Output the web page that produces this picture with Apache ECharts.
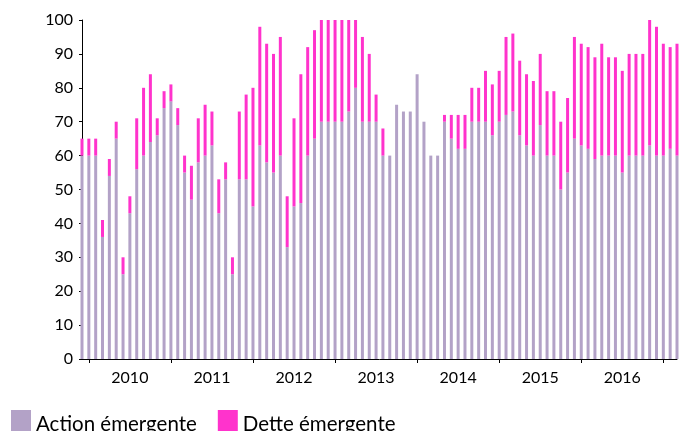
<!DOCTYPE html>
<html>
<head>
<meta charset="utf-8">
<script src="https://cdn.jsdelivr.net/npm/echarts@6/dist/echarts.min.js"></script>
<style>
  html, body { margin: 0; padding: 0; background: #fff; }
  #chart { width: 682px; height: 431px; }
</style>
</head>
<body>
<div id="chart"></div>
<script>
// monthly series, Dec 2009 -> Mar 2017
const firstYear = 2009
const firstMonth = 12
const monthCount = 88
const yearLabels = ['2010', '2011', '2012', '2013', '2014', '2015', '2016']

const actionEmergente = [
  60, 60, 60, 36, 54, 65, 25, 43, 56, 60, 64, 66, 74, 76, 69, 55,
  47, 58, 60, 63, 43, 53, 25, 53, 53, 45, 63, 58, 55, 60, 33, 45, 46, 60,
  65, 70, 70, 70, 70, 73, 80, 70, 70, 70, 60, 60, 75, 73, 73, 84, 70, 60,
  60, 70, 65, 62, 62, 70, 70, 70, 66, 70, 72, 73, 66, 63, 60, 69, 60,
  60, 50, 55, 65, 63, 62, 59, 60, 60, 60, 55, 60, 60, 60, 63, 60, 60, 62, 60
]
const detteEmergente = [
  5, 5, 5, 5, 5, 5, 5, 5, 15, 20, 20, 5, 5, 5, 5, 5,
  10, 13, 15, 10, 10, 5, 5, 20, 25, 35, 35, 35, 35, 35, 15, 26, 38, 32,
  32, 30, 30, 30, 30, 27, 20, 25, 20, 8, 8, 0, 0, 0, 0, 0, 0, 0,
  0, 2, 7, 10, 10, 10, 10, 15, 15, 15, 23, 23, 22, 21, 22, 21, 19,
  19, 20, 22, 30, 30, 30, 30, 33, 29, 29, 30, 30, 30, 30, 37, 38, 33, 30, 33
]

const months = []
for (let i = 0; i < monthCount; i++) {
  const m = (firstMonth - 1 + i) % 12
  const y = firstYear + Math.floor((firstMonth - 1 + i) / 12)
  months.push(y + '-' + String(m + 1).padStart(2, '0'))
}

const fontFamily = 'Lato, "Open Sans", sans-serif'

const chart = echarts.init(document.getElementById('chart'))
chart.setOption({
  animation: false,
  grid: {
    left: 82,
    right: 5,
    top: 20,
    bottom: 72
  },
  legend: {
    left: 11,
    top: 410,
    padding: 0,
    itemWidth: 20,
    itemHeight: 21,
    itemGap: 21,
    icon: 'rect',
    formatter: name => '{t|' + name + '}',
    textStyle: {
      rich: {
        t: {
          fontFamily,
          fontSize: 20.5,
          color: '#000',
          padding: [7, 0, 0, 0]
        }
      }
    },
    data: ['Action émergente', 'Dette émergente']
  },
  xAxis: {
    type: 'category',
    data: months,
    boundaryGap: false,
    axisLine: { lineStyle: { color: '#000', width: 1 } },
    axisTick: {
      length: 4,
      interval: (index, value) => value.slice(5) === '01',
      lineStyle: { color: '#000' }
    },
    axisLabel: {
      interval: (index, value) => value.slice(5) === '07' && yearLabels.includes(value.slice(0, 4)),
      formatter: value => value.slice(0, 4),
      margin: 11,
      fontFamily,
      fontSize: 16,
      color: '#000'
    },
    splitLine: { show: false }
  },
  yAxis: {
    type: 'value',
    min: 0,
    max: 100,
    interval: 10,
    axisLine: { show: true, lineStyle: { color: '#000', width: 1 } },
    axisTick: { show: true, length: 3, lineStyle: { color: '#000' } },
    axisLabel: {
      margin: 9,
      fontFamily,
      fontSize: 16,
      color: '#000'
    },
    splitLine: { show: false }
  },
  series: [
    {
      name: 'Action émergente',
      type: 'bar',
      stack: 'total',
      barWidth: 3,
      data: actionEmergente,
      itemStyle: { color: '#B3A2C7' }
    },
    {
      name: 'Dette émergente',
      type: 'bar',
      stack: 'total',
      barWidth: 3,
      data: detteEmergente,
      itemStyle: { color: '#FF33CC' }
    }
  ]
})
</script>
</body>
</html>
